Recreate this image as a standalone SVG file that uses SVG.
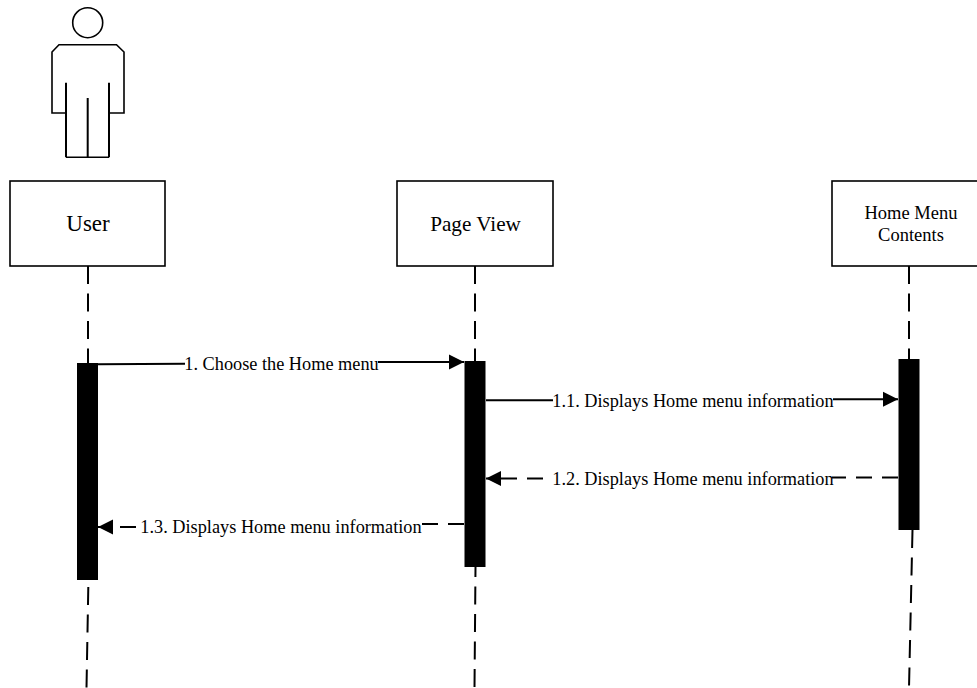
<svg xmlns="http://www.w3.org/2000/svg" width="977" height="688" viewBox="0 0 977 688">
<defs>
<style>
.box{fill:#fff;stroke:#000;stroke-width:1.6}
.ln{fill:none;stroke:#000;stroke-width:1.6}
.act{fill:#000;stroke:none}
.msg{fill:none;stroke:#000;stroke-width:2}
.dash{stroke-dasharray:16 10}
.life{fill:none;stroke:#000;stroke-width:2;stroke-dasharray:18 9.5}
text{font-family:"Liberation Serif","Times New Roman",serif;fill:#000;text-anchor:middle}
.lbl{font-size:18.3px}
</style>
<marker id="arr" markerUnits="userSpaceOnUse" markerWidth="16" markerHeight="16" refX="15" refY="8" orient="auto"><path d="M0 0.500L15 8L0 15.500Z" fill="#000"/></marker>
</defs>
<rect width="977" height="688" fill="#fff"/>
<g id="actor" class="ln">
<circle cx="87.700" cy="22.700" r="15"/>
<path d="M66 113H52V52L59 44.700H116.500L124 52V113H109"/>
<path d="M66 157.300H109"/>
<path d="M66 82.700V157.300M109 82.700V157.300M87.700 98V157.300" stroke-width="2"/>
</g>
<g id="connectors">
<path class="life" d="M88 266V364"/>
<path class="life" d="M475 266V361"/>
<path class="life" d="M909 266V359"/>
<path class="life" d="M88.300 587L86.500 688"/>
<path class="life" d="M475.500 567L474.500 688" stroke-dashoffset="8"/>
<path class="life" d="M912.500 530L909 688"/>
<path class="msg" d="M98 364.300L185 363.800"/>
<path class="msg" d="M378 362H464" marker-end="url(#arr)"/>
<path class="msg" d="M486 400.300H553"/>
<path class="msg" d="M833 399.300H898" marker-end="url(#arr)"/>
<path class="msg dash" d="M898 477.500H832"/>
<path class="msg dash" d="M543 478.500H486" marker-end="url(#arr)"/>
<path class="msg dash" d="M464 524H422"/>
<path class="msg dash" d="M136 527H98" marker-end="url(#arr)"/>
</g>
<g id="user"><rect class="box" x="10" y="181" width="155" height="85"/><text x="88" y="231" font-size="23">User</text></g>
<g id="page-view"><rect class="box" x="397" y="181" width="156" height="85"/><text x="475.500" y="231" font-size="21.200">Page View</text></g>
<g id="home-menu"><rect class="box" x="832" y="181" width="148" height="85"/><text x="911" y="219" font-size="18.500">Home Menu</text><text x="911" y="241" font-size="18.500">Contents</text></g>
<g id="activation-user"><rect class="act" x="77" y="363" width="21" height="217"/></g>
<g id="activation-page"><rect class="act" x="464.500" y="361" width="21" height="206"/></g>
<g id="activation-home"><rect class="act" x="898.500" y="359" width="21" height="171"/></g>
<g id="labels" class="lbl">
<text x="281.500" y="369.500">1. Choose the Home menu</text>
<text x="693" y="406.500">1.1. Displays Home menu information</text>
<text x="693" y="485">1.2. Displays Home menu information</text>
<text x="281" y="533">1.3. Displays Home menu information</text>
</g>
</svg>
